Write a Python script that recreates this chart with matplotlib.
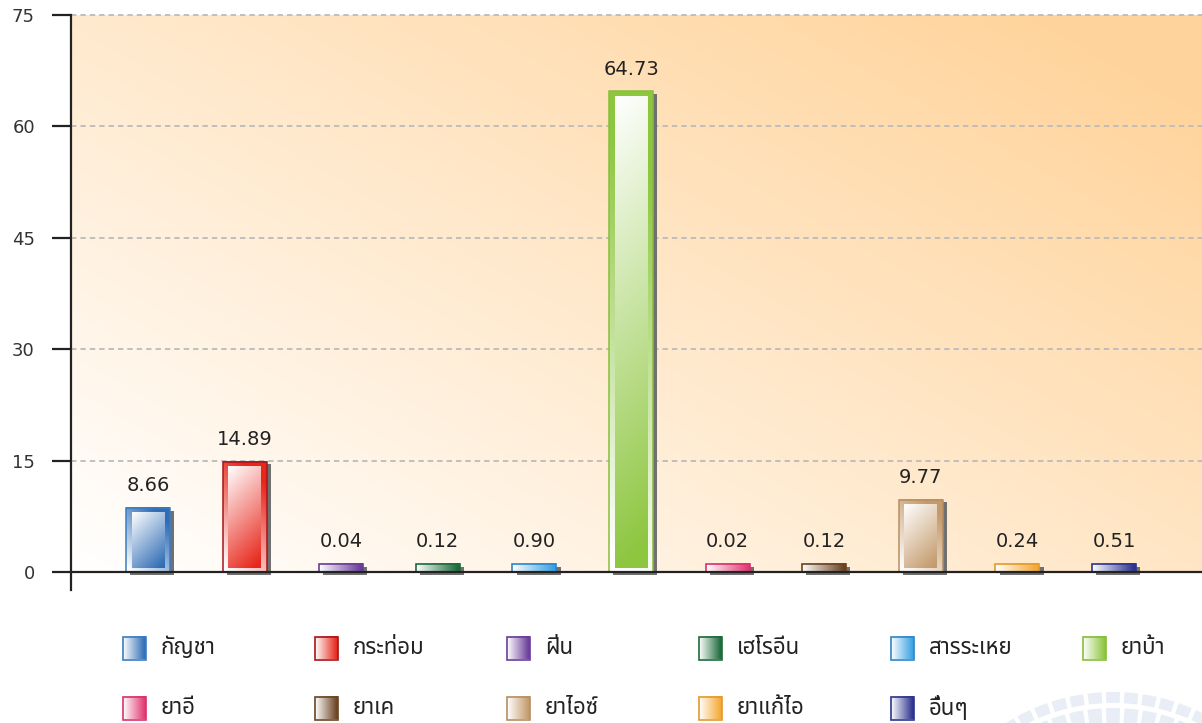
import numpy as np
import matplotlib
import matplotlib.pyplot as plt
import matplotlib.transforms as mtransforms
from matplotlib import font_manager
from matplotlib.colors import to_rgb
from matplotlib.ft2font import FT2Font
from matplotlib.patches import Rectangle, Wedge

matplotlib.use("Agg")

# Data
categories = ["กัญชา", "กระท่อม", "ฝิ่น", "เฮโรอีน", "สารระเหย", "ยาบ้า",
              "ยาอี", "ยาเค", "ยาไอซ์", "ยาแก้ไอ", "อื่นๆ"]
values = [8.66, 14.89, 0.04, 0.12, 0.90, 64.73, 0.02, 0.12, 9.77, 0.24, 0.51]
y_ticks = [0, 15, 30, 45, 60, 75]

# dark end of each gradient, and the outline colour
bar_colors = ["#2F6DB5", "#E8271C", "#6A3D9A", "#1D6B3C", "#3AA2E2", "#8DC63F",
              "#E23A74", "#6B4424", "#C49A6C", "#F5A833", "#2E348F"]
edge_colors = ["#3B7DC2", "#A8141A", "#6A3D9A", "#1D6B3C", "#2E86C8", "#86BF3A",
               "#D6336C", "#6B4424", "#B88E62", "#E39A2C", "#2E348F"]


def find_thai_font():
    """Return the name of an installed font with Thai glyphs, if any."""
    found = []
    for f in font_manager.fontManager.ttflist:
        try:
            if 0x0E01 in FT2Font(f.fname).get_charmap():
                found.append(f.name)
        except Exception:
            pass
    for pref in ["Noto Sans Thai", "Loma", "Garuda", "Norasi", "Tlwg Typist"]:
        if pref in found:
            return pref
    return found[0] if found else None


thai = find_thai_font()
families = [thai, "DejaVu Sans"] if thai else ["DejaVu Sans"]
plt.rcParams["font.family"] = families


def mix(c, t):
    """Blend white towards colour c by t (0..1)."""
    c = np.array(to_rgb(c))
    t = np.clip(t, 0, 1)[..., None]
    return (1 - t) * np.ones(3) + t * c


fig = plt.figure(figsize=(12.02, 7.23), dpi=100)
fig.patch.set_facecolor("white")

# Faint seal watermark behind everything (pixel coords)
wm = fig.add_axes([0, 0, 1, 1], zorder=0)
wm.set_xlim(0, 1202)
wm.set_ylim(0, 723)
wm.axis("off")
for r_out, width_r, step in [(200, 11, 5.3), (184, 15, 5.8)]:
    for a in np.arange(90 - 6 * step, 90 + 6 * step + 0.1, step):
        wm.add_patch(Wedge((1113, 723 - 892), r_out, a - step * 0.38, a + step * 0.38,
                           width=width_r, facecolor="#E9EDF5", edgecolor="none"))

ax = fig.add_axes([71 / 1202, 133 / 723, 1131 / 1202, 575 / 723], zorder=1)
ax.set_facecolor("none")

xmin, xmax = -0.797, 10.91
ymin, ymax = -2.4, 75

# Background gradient (white bottom-left -> peach top-right)
n = 200
u, v = np.meshgrid(np.linspace(0, 1, n), np.linspace(1, 0, n))
bg = mix("#FFD49C", 0.58 * u + 0.5 * v)
ax.imshow(bg, extent=(xmin, xmax, 0, ymax), aspect="auto", zorder=0,
          interpolation="bilinear")

for yv in y_ticks[1:]:
    ax.axhline(yv, color="#BBBBBB", lw=1.3, dashes=(3, 2.2), zorder=1, clip_on=False)

x = np.arange(len(values))
width = 0.455
min_h = 1.1
heights = [max(vv, min_h) for vv in values]

shadow_tr = ax.transData + mtransforms.ScaledTranslation(3 / 72, -2 / 72, fig.dpi_scale_trans)

px_x = 1131 / (xmax - xmin)   # pixels per x unit
px_y = 575 / (ymax - ymin)    # pixels per y unit
band_x = 5.5 / px_x
band_y = 4.5 / px_y
g = np.linspace(0, 1, 120)
uu, vv = np.meshgrid(g, g)   # vv: 0 at top, 1 at bottom
for xi, h, val, col, ec in zip(x, heights, values, bar_colors, edge_colors):
    x0, x1 = xi - width / 2, xi + width / 2
    ax.add_patch(Rectangle((x0, 0), width, h, facecolor="#707070", edgecolor="none",
                           transform=shadow_tr, zorder=1.5))
    if h > 3:
        wp, hp = width * px_x, h * px_y
        # bevel band: colour towards top-right, pale towards bottom-left
        band = mix(col, (uu * wp + (1 - vv) * hp) / (wp + hp) * 1.25 - 0.05)
        ax.imshow(band, extent=(x0, x1, 0, h), aspect="auto", zorder=3,
                  interpolation="bilinear")
        ax.add_patch(Rectangle((x0, 0), width, h, facecolor="none",
                               edgecolor=ec, lw=1.1, zorder=3.2))
        wi, hi = wp - 11, hp - 9
        inner = mix(col, (uu * wi + vv * hi) / (wi + hi) * 1.05)
        ax.imshow(inner, extent=(x0 + band_x, x1 - band_x, band_y, h - band_y),
                  aspect="auto", zorder=3.5, interpolation="bilinear")
    else:
        img = mix(col, uu * 1.05)
        ax.imshow(img, extent=(x0, x1, 0, h), aspect="auto", zorder=3,
                  interpolation="bilinear")
        ax.add_patch(Rectangle((x0, 0), width, h, facecolor="none",
                               edgecolor=ec, lw=1.2, zorder=3.6))
    ax.annotate(f"{val:.2f}", (xi, h), xytext=(0, 12), textcoords="offset points",
                ha="center", va="baseline", fontsize=14, color="#222222",
                family=["DejaVu Sans"])

ax.set_xlim(xmin, xmax)
ax.set_ylim(ymin, ymax)
ax.set_yticks(y_ticks)
ax.set_yticklabels([str(t) for t in y_ticks], family=["DejaVu Sans"])
ax.set_xticks([])
ax.tick_params(axis="y", length=14, width=1.6, color="#222222", pad=12,
               labelsize=13, labelcolor="#333333")
for side in ["top", "right"]:
    ax.spines[side].set_visible(False)
ax.spines["bottom"].set_position(("data", 0))
for side in ["left", "bottom"]:
    ax.spines[side].set_color("#222222")
    ax.spines[side].set_linewidth(1.6)
    ax.spines[side].set_zorder(5)

# Legend drawn in pixel coordinates
leg = fig.add_axes([0, 0, 1, 1], zorder=2)
leg.set_xlim(0, 1202)
leg.set_ylim(723, 0)
leg.axis("off")
sq = 23
for i, (name, col, ec) in enumerate(zip(categories, bar_colors, edge_colors)):
    lx = 123 + 192 * (i % 6)
    ly = 648 + 60 * (i // 6)
    leg.imshow(mix(col, uu * 1.05), extent=(lx, lx + sq, ly + sq / 2, ly - sq / 2),
               aspect="auto", interpolation="bilinear", zorder=2)
    leg.add_patch(Rectangle((lx, ly - sq / 2), sq, sq, facecolor="none",
                            edgecolor=ec, lw=1.2, zorder=3))
    leg.text(lx + 38, ly, name, ha="left", va="center", fontsize=16, color="#222222")
leg.set_xlim(0, 1202)
leg.set_ylim(723, 0)

fig.savefig("out.png", dpi=100, facecolor="white")
plt.close(fig)
